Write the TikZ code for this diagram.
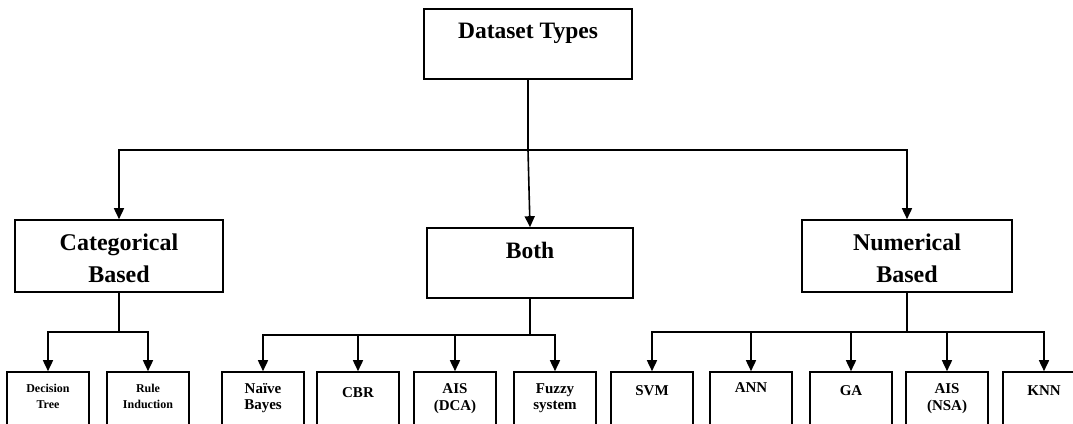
\documentclass[tikz,border=0pt]{standalone}
\usepackage{fontspec}
\setmainfont{Liberation Serif}
\usetikzlibrary{arrows.meta}
\tikzset{
  box/.style={draw=black, line width=1.6pt, fill=white, minimum width=#1, inner sep=0pt},
  lbl/.style={font=\bfseries, anchor=base, inner sep=0pt},
  conn/.style={draw=black, line width=1.6pt},
  arr/.style={conn, -{Triangle[length=11pt,width=10pt]}},
}
\begin{document}
\begin{tikzpicture}[x=1pt,y=-1pt]
\useasboundingbox (0,0) rectangle (1073,423);
\clip (0,0) rectangle (1073,423);
\fill[white] (0,0) rectangle (1073,423);
% top
\node[box=208pt, minimum height=70pt] (top) at (528,44) {};
\node[lbl, font=\bfseries\fontsize{23.5}{28}\selectfont] (toplbl) at (528,38) {Dataset Types};
% level 2
\node[box=208pt, minimum height=72pt] (cat) at (119,256) {};
\node[lbl, font=\bfseries\fontsize{24}{30}\selectfont] (catl1) at (119,250) {Categorical};
\node[lbl, font=\bfseries\fontsize{24}{30}\selectfont] (catl2) at (119,282) {Based};
\node[box=206pt, minimum height=70pt] (both) at (530,263) {};
\node[lbl, font=\bfseries\fontsize{23.5}{30}\selectfont] (bothl) at (530,258) {Both};
\node[box=210pt, minimum height=72pt] (num) at (907,256) {};
\node[lbl, font=\bfseries\fontsize{24}{30}\selectfont] (numl1) at (907,250) {Numerical};
\node[lbl, font=\bfseries\fontsize{24}{30}\selectfont] (numl2) at (907,282) {Based};
% leaves
\tikzset{leaf/.style={box=82pt, minimum height=80pt}}
\node[leaf] (dt) at (48,412) {};
\node[leaf] (ri) at (148,412) {};
\node[leaf] (nb) at (263,412) {};
\node[leaf] (cbr) at (358,412) {};
\node[leaf] (dca) at (455,412) {};
\node[leaf] (fz) at (555,412) {};
\node[leaf] (svm) at (652,412) {};
\node[leaf] (ann) at (751,412) {};
\node[leaf] (ga) at (851,412) {};
\node[leaf] (nsa) at (947,412) {};
\node[leaf] (knn) at (1044,412) {};
\tikzset{sm/.style={lbl, font=\bfseries\fontsize{12}{15}\selectfont}, md/.style={lbl, font=\bfseries\fontsize{15}{17}\selectfont}}
\node[sm] at (48,392) {Decision};
\node[sm] at (48,408) {Tree};
\node[sm] at (148,392) {Rule};
\node[sm] at (148,408) {Induction};
\node[md] at (263,393) {Naïve};
\node[md] at (263,409) {Bayes};
\node[md] at (358,397) {CBR};
\node[md] at (455,393) {AIS};
\node[md] at (455,410) {(DCA)};
\node[md] at (555,393) {Fuzzy};
\node[md] at (555,409) {system};
\node[md] at (652,395) {SVM};
\node[md] at (751,392) {ANN};
\node[md] at (851,395) {GA};
\node[md] at (947,393) {AIS};
\node[md] at (947,410) {(NSA)};
\node[md] at (1044,395) {KNN};
% connectors level 1
\coordinate (j0) at (528,150);
\draw[conn] (top.south) -- (j0);
\draw[arr] (j0) -| (cat.north);
\draw[arr] (j0) -| (num.north);
\draw[arr] (j0) -- (both.north);
% categorical
\coordinate (jc) at (119,332);
\draw[conn] (cat.south) -- (jc);
\draw[arr] (jc) -| (dt.north);
\draw[arr] (jc) -| (ri.north);
% both
\coordinate (jb) at (530,335);
\draw[conn] (both.south) -- (jb);
\draw[arr] (jb) -| (nb.north);
\draw[arr] (jb) -| (cbr.north);
\draw[arr] (jb) -| (dca.north);
\draw[arr] (jb) -| (fz.north);
% numerical
\coordinate (jn) at (907,332);
\draw[conn] (num.south) -- (jn);
\draw[arr] (jn) -| (svm.north);
\draw[arr] (jn) -| (ann.north);
\draw[arr] (jn) -| (ga.north);
\draw[arr] (jn) -| (nsa.north);
\draw[arr] (jn) -| (knn.north);
\end{tikzpicture}
\end{document}
